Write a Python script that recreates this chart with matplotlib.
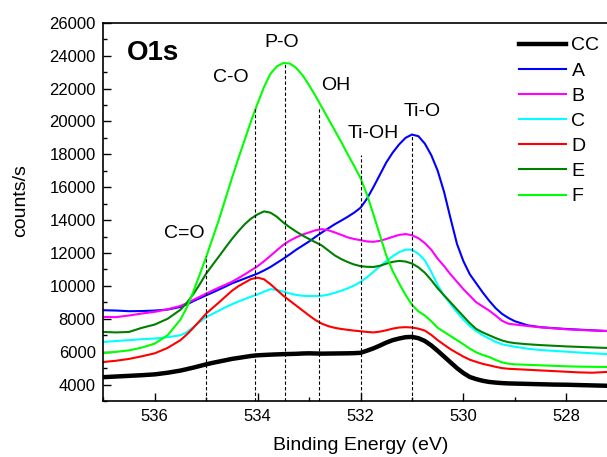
import numpy as np
import matplotlib
matplotlib.use("Agg")
import matplotlib.pyplot as plt
from matplotlib.ticker import MultipleLocator

plt.rcParams['font.family'] = ['Liberation Sans', 'DejaVu Sans']

# binding energy grid (eV), finer step across the peak region
energy = [537.0, 536.75, 536.5, 536.25, 536.0, 535.75,
          535.5, 535.375, 535.25, 535.125, 535.0, 534.875, 534.75, 534.625,
          534.5, 534.375, 534.25, 534.125, 534.0, 533.875, 533.75, 533.625,
          533.5, 533.375, 533.25, 533.125, 533.0, 532.875, 532.75, 532.625,
          532.5, 532.375, 532.25, 532.125, 532.0, 531.875, 531.75, 531.625,
          531.5, 531.375, 531.25, 531.125, 531.0, 530.875, 530.75, 530.625,
          530.5, 530.375, 530.25, 530.125, 530.0, 529.875, 529.75, 529.625,
          529.5, 529.375, 529.25, 529.125, 529.0,
          528.75, 528.5, 528.25, 528.0, 527.75, 527.5, 527.25, 527.0]

cc = [4450, 4490, 4530, 4570, 4620, 4720,
      4850, 4940, 5030, 5130, 5230, 5320, 5400, 5480,
      5560, 5620, 5680, 5740, 5780, 5800, 5820, 5835,
      5850, 5860, 5870, 5890, 5900, 5890, 5880, 5885,
      5890, 5895, 5900, 5910, 5930, 6060, 6200, 6370,
      6550, 6700, 6800, 6880, 6900, 6820, 6650, 6380,
      6050, 5700, 5350, 5000, 4700, 4460, 4330, 4230,
      4160, 4120, 4090, 4070, 4060,
      4040, 4020, 4000, 3990, 3970, 3950, 3930, 3910]
a = [8520, 8500, 8460, 8470, 8500, 8560,
     8720, 8880, 9070, 9250, 9430, 9600, 9780, 9960,
     10150, 10300, 10450, 10600, 10750, 10940, 11150, 11400,
     11650, 11920, 12200, 12450, 12700, 12980, 13250, 13500,
     13750, 13970, 14200, 14450, 14750, 15300, 16000, 16750,
     17500, 18100, 18600, 19000, 19200, 19100, 18650, 17950,
     17000, 15700, 14100, 12550, 11500, 10700, 10150, 9600,
     9100, 8650, 8300, 8050, 7850,
     7600, 7490, 7430, 7380, 7340, 7300, 7260, 7240]
b = [8110, 8100, 8200, 8320, 8420, 8580,
     8780, 8950, 9150, 9340, 9530, 9720, 9900, 10070,
     10250, 10470, 10700, 10950, 11200, 11500, 11830, 12170,
     12500, 12750, 12950, 13120, 13250, 13380, 13450, 13380,
     13250, 13100, 12950, 12850, 12780, 12700, 12680, 12740,
     12850, 12980, 13100, 13150, 13080, 12900, 12600, 12200,
     11650, 11200, 10700, 10250, 9800, 9400, 9000, 8750,
     8500, 8200, 7880, 7700, 7650,
     7560, 7480, 7420, 7360, 7320, 7290, 7260, 7240]
c = [6590, 6650, 6700, 6760, 6800, 6880,
     7000, 7180, 7500, 7800, 8110, 8300, 8500, 8700,
     8880, 9050, 9200, 9350, 9480, 9650, 9800, 9750,
     9650, 9540, 9450, 9400, 9380, 9380, 9400, 9470,
     9580, 9700, 9850, 10020, 10240, 10520, 10850, 11180,
     11500, 11800, 12050, 12200, 12200, 11950, 11550, 10850,
     10050, 9400, 8900, 8400, 7950, 7550, 7250, 7000,
     6800, 6600, 6450, 6370, 6300,
     6180, 6100, 6050, 6000, 5950, 5900, 5860, 5840]
d = [5370, 5450, 5560, 5720, 5900, 6230,
     6700, 7050, 7450, 7880, 8320, 8660, 9000, 9350,
     9700, 9980, 10200, 10420, 10500, 10400, 10100, 9750,
     9400, 9100, 8800, 8500, 8200, 7920, 7700, 7550,
     7450, 7380, 7330, 7280, 7240, 7200, 7170, 7220,
     7300, 7400, 7470, 7490, 7470, 7400, 7280, 7020,
     6700, 6420, 6150, 5920, 5700, 5510, 5380, 5260,
     5170, 5080, 5000, 4960, 4940,
     4900, 4860, 4820, 4780, 4740, 4720, 4760, 4790]
e = [7200, 7170, 7200, 7450, 7650, 8000,
     8550, 8980, 9500, 10100, 10750, 11280, 11800, 12330,
     12850, 13320, 13750, 14100, 14350, 14530, 14450, 14200,
     13850, 13560, 13300, 13060, 12850, 12650, 12450, 12150,
     11850, 11630, 11450, 11300, 11200, 11160, 11150, 11220,
     11350, 11460, 11520, 11480, 11360, 11130, 10800, 10350,
     9850, 9420, 9000, 8570, 8150, 7730, 7380, 7170,
     7000, 6830, 6680, 6580, 6520,
     6450, 6400, 6360, 6320, 6290, 6260, 6230, 6220]
f = [5920, 5990, 6080, 6250, 6490, 7000,
     7950, 8700, 9650, 10700, 11760, 12900, 14050, 15300,
     16550, 17750, 18900, 20050, 21100, 22100, 22900, 23350,
     23550, 23520, 23250, 22800, 22200, 21550, 20850, 20150,
     19450, 18750, 18000, 17300, 16550, 15550, 14350, 13100,
     11850, 10900, 10150, 9450, 8850, 8450, 8200, 7850,
     7450, 7200, 6950, 6700, 6450, 6180, 5960, 5800,
     5680, 5500, 5350, 5270, 5230,
     5200, 5170, 5140, 5110, 5090, 5080, 5070, 5060]

series_names = ['CC', 'A', 'B', 'C', 'D', 'E', 'F']
series_vals = [cc, a, b, c, d, e, f]
colors = ['black', '#0000ff', '#ff00ff', '#00ffff', '#ff0000', '#008000', '#00ff00']

# peak assignments
peak_labels = ['C=O', 'C-O', 'P-O', 'OH', 'Ti-OH', 'Ti-O']
peak_pos = [535.0, 534.05, 533.47, 532.8, 532.0, 531.0]
peak_top = [11800, 20900, 23500, 20800, 17970, 19100]
label_xy = [(535.43, 13200), (534.53, 22690), (533.54, 24790),
            (532.48, 22175), (531.76, 19290), (530.80, 20590)]

fig = plt.figure(figsize=(6.07, 4.57), dpi=100)
ax = fig.add_axes([0.1702, 0.1225, 0.8475, 0.8278])

for name, vals, col in zip(series_names, series_vals, colors):
    lw = 3.2 if name == 'CC' else 1.5
    ax.plot(energy, vals, color=col, lw=lw, label=name)

ax.vlines(peak_pos, 3000, peak_top, colors='black', linestyles=(0, (3, 2)), lw=0.8)
for lab, (x, y) in zip(peak_labels, label_xy):
    ax.text(x, y, lab, ha='center', va='center', fontsize=14)

ax.text(536.03, 24150, 'O1s', ha='center', va='center', fontsize=20, fontweight='bold')

ax.set_xlim(537, 527)
ax.set_ylim(3000, 26000)
ax.xaxis.set_major_locator(MultipleLocator(2))
ax.xaxis.set_minor_locator(MultipleLocator(1))
ax.yaxis.set_major_locator(MultipleLocator(2000))
ax.yaxis.set_minor_locator(MultipleLocator(1000))
ax.tick_params(which='both', direction='in', top=False, right=False, width=1.0)
ax.tick_params(which='major', length=6, labelsize=12, pad=5.5)
ax.tick_params(which='minor', length=3)
for sp in ax.spines.values():
    sp.set_linewidth(1.2)

ax.set_xlabel('Binding Energy (eV)', fontsize=14)
ax.set_ylabel('counts/s', fontsize=14)
ax.xaxis.set_label_coords(0.5, -0.094)
ax.yaxis.set_label_coords(-0.144, 0.531)

ax.legend(loc='upper left', bbox_to_anchor=(0.8076, 0.963), frameon=False,
          fontsize=14, handlelength=2.45, handletextpad=0.26, labelspacing=0.39,
          borderpad=0, borderaxespad=0)

fig.savefig('out.png', dpi=100)
